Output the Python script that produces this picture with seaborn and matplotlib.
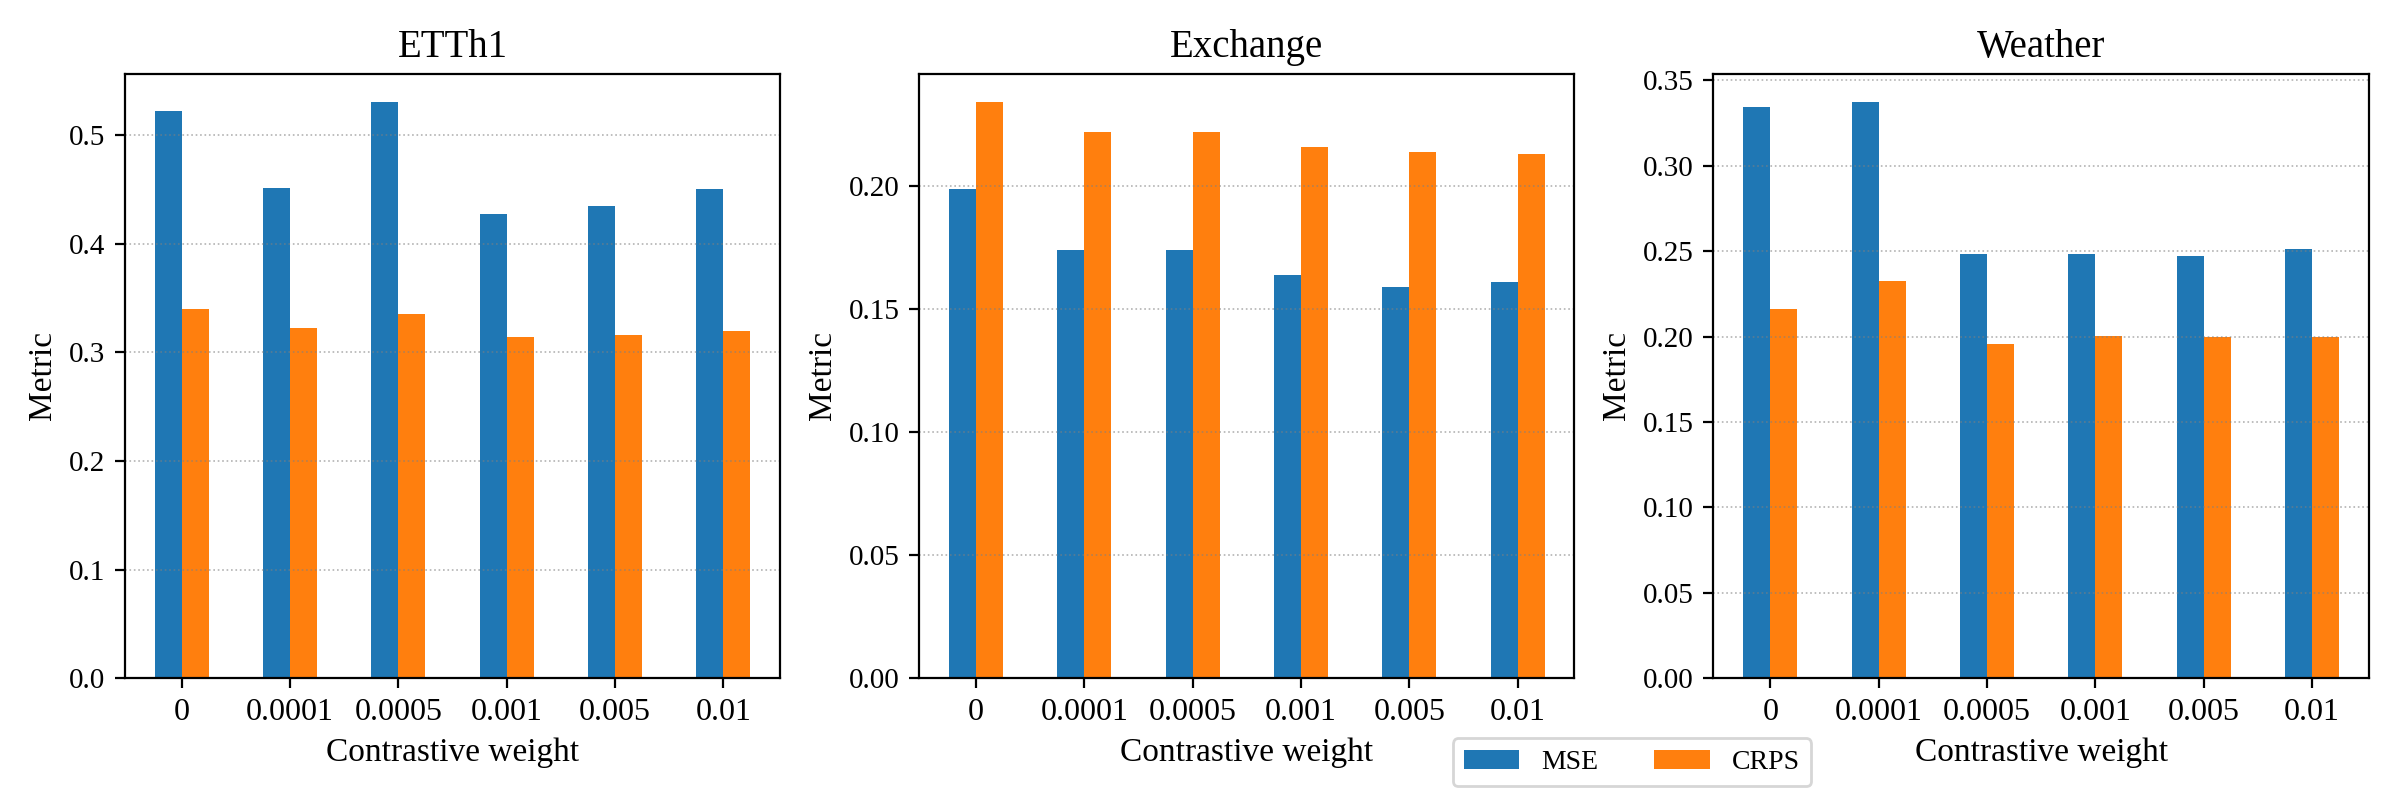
import pandas as pd
import numpy as np
import matplotlib.pyplot as plt
import seaborn as sns

plt.rcParams['font.family'] = ['Liberation Serif', 'DejaVu Serif']

# data
weights = ['0', '0.0001', '0.0005', '0.001', '0.005', '0.01']
datasets = ['ETTh1', 'Exchange', 'Weather']

etth1_mse = [0.522, 0.451, 0.530, 0.427, 0.435, 0.450]
etth1_crps = [0.340, 0.322, 0.335, 0.314, 0.316, 0.320]

exchange_mse = [0.199, 0.174, 0.174, 0.164, 0.159, 0.161]
exchange_crps = [0.234, 0.222, 0.222, 0.216, 0.214, 0.213]

weather_mse = [0.3345, 0.337, 0.2485, 0.2485, 0.2473, 0.251]
weather_crps = [0.2162, 0.2327, 0.1959, 0.2001, 0.1995, 0.1995]

mse = {'ETTh1': etth1_mse, 'Exchange': exchange_mse, 'Weather': weather_mse}
crps = {'ETTh1': etth1_crps, 'Exchange': exchange_crps, 'Weather': weather_crps}

colors = ['#1f77b4', '#ff7f0e']

fig, axes = plt.subplots(1, 3, figsize=(12, 4), dpi=200)

for ax, name in zip(axes, datasets):
    df = pd.DataFrame({'Contrastive weight': weights * 2,
                       'Metric': mse[name] + crps[name],
                       'kind': ['MSE'] * 6 + ['CRPS'] * 6})
    sns.barplot(data=df, x='Contrastive weight', y='Metric', hue='kind',
                order=weights, hue_order=['MSE', 'CRPS'],
                palette=colors, saturation=1, width=0.5, ax=ax)
    ax.legend_.remove()
    # same padding as a plain matplotlib bar chart
    ax.set_xlim(-0.525, 5.525)
    ax.set_ylim(0, max(mse[name] + crps[name]) * 1.05)
    ax.set_title(name, fontsize=14)
    ax.set_xlabel('Contrastive weight', fontsize=12)
    ax.set_ylabel('Metric', fontsize=12)
    ax.tick_params(axis='x', labelsize=11.5)
    ax.tick_params(axis='y', labelsize=10.5)
    ax.yaxis.grid(True, linestyle=':', linewidth=0.6, color='gray', alpha=0.6)

fig.subplots_adjust(left=0.052, right=0.987, bottom=0.152, top=0.908, wspace=0.212)

handles, labels = axes[0].get_legend_handles_labels()
fig.legend(handles, labels, loc='lower center', ncol=2, fontsize=10,
           bbox_to_anchor=(0.68, 0.0))

fig.savefig('out.png', dpi=200)
